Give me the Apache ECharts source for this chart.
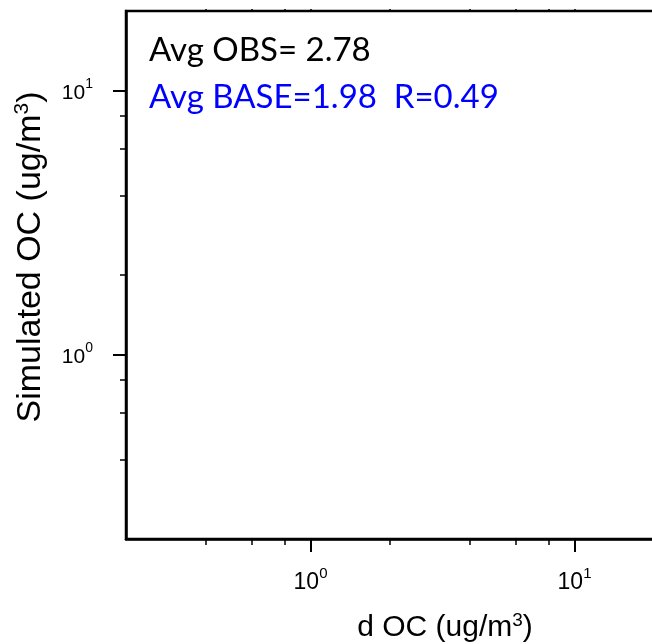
<!DOCTYPE html>
<html>
<head>
<meta charset="utf-8">
<script src="https://cdn.jsdelivr.net/npm/echarts@6/dist/echarts.min.js"></script>
<style>
html, body { margin: 0; padding: 0; background: #fff; }
#chart { width: 652px; height: 644px; }
</style>
</head>
<body>
<div id="chart"></div>
<script>
// Log-log axis range, shared by both axes
const axisMin = 0.2;
const axisMax = 20;
const majorTicks = [1, 10];
const minorTicks = [0.4, 0.6, 0.8, 2, 4, 6, 8];

// Summary statistics printed in the panel
const avgObs = 2.78;
const avgBase = 1.98;
const corrR = 0.49;

// Paired observed / simulated values (this panel has none)
const obsValues = [];
const baseValues = [];

const AXIS_FONT = '"Liberation Sans", Arial, Helvetica, sans-serif';
const NOTE_FONT = 'Lato, "Open Sans", sans-serif';
const LINE_W = 2.5;

const chart = echarts.init(document.getElementById('chart'), null, { renderer: 'canvas' });

const powerLabel = v => '{b|10}{s|' + Math.round(Math.log10(v)) + '}';

// Decade labels "10^n" with a raised exponent
function tickLabel(size, margin) {
  const sup = Math.round(size * 0.65);
  return {
    show: true, customValues: majorTicks, formatter: powerLabel,
    fontSize: size, fontFamily: AXIS_FONT, color: '#000', margin: margin,
    rich: {
      b: { fontSize: size, fontFamily: AXIS_FONT, color: '#000', lineHeight: size + 5, verticalAlign: 'bottom' },
      s: { fontSize: sup, fontFamily: AXIS_FONT, color: '#000', lineHeight: size + 5, verticalAlign: 'top' }
    }
  };
}

function nameStyle(size, padding) {
  return {
    fontSize: size,
    fontFamily: AXIS_FONT,
    padding: padding,
    rich: {
      n: { fontSize: size, fontFamily: AXIS_FONT, color: '#000', lineHeight: size + 4 },
      s: { fontSize: Math.round(size * 0.62), fontFamily: AXIS_FONT, color: '#000', lineHeight: size + 4, verticalAlign: 'top' }
    }
  };
}

// Main axis: line, major ticks and decade labels
function majorAxis(extra) {
  return Object.assign({
    type: 'log', logBase: 10, min: axisMin, max: axisMax,
    axisLine: { show: true, onZero: false, lineStyle: { color: '#000', width: LINE_W } },
    axisTick: { show: true, customValues: majorTicks, length: 13, lineStyle: { color: '#000', width: 2 } },
    splitLine: { show: false },
    minorTick: { show: false },
    minorSplitLine: { show: false }
  }, extra);
}

// Overlaid axis carrying only the short minor ticks
function minorAxis(extra) {
  return Object.assign({
    type: 'log', logBase: 10, min: axisMin, max: axisMax,
    axisLine: { show: false, onZero: false },
    axisTick: { show: true, customValues: minorTicks, length: 6, lineStyle: { color: '#000', width: 1.5 } },
    axisLabel: { show: false },
    splitLine: { show: false }
  }, extra);
}

const option = {
  backgroundColor: '#fff',
  animation: false,
  grid: {
    left: 126, top: 11, width: 528, height: 528,
    show: true, borderColor: '#000', borderWidth: LINE_W, backgroundColor: 'transparent',
    containLabel: false,
    outerBoundsMode: 'none'
  },
  xAxis: [
    majorAxis({
      position: 'bottom',
      axisLabel: tickLabel(23, 27),
      name: '{n|d OC (ug/m}{s|3}{n|)}',
      nameLocation: 'middle',
      nameGap: 72,
      nameTextStyle: nameStyle(30, [0, 0, 0, 110])
    }),
    minorAxis({ position: 'bottom' }),
    {
      type: 'log', logBase: 10, min: axisMin, max: axisMax, position: 'top',
      axisLine: { show: false, onZero: false },
      axisTick: { show: true, customValues: majorTicks.concat(minorTicks), length: 2, lineStyle: { color: '#000', width: 1.5 } },
      axisLabel: { show: false },
      splitLine: { show: false }
    }
  ],
  yAxis: [
    majorAxis({
      position: 'left',
      axisLabel: tickLabel(21, 33),
      name: '{n|Simulated OC (ug/m}{s|3}{n|)}',
      nameLocation: 'middle',
      nameRotate: 90,
      nameGap: 76,
      nameTextStyle: nameStyle(34, [0, 0, 0, 36])
    }),
    minorAxis({ position: 'left' })
  ],
  series: [{
    type: 'scatter',
    xAxisIndex: 0,
    yAxisIndex: 0,
    symbolSize: 6,
    itemStyle: { color: '#000' },
    data: obsValues.map((v, i) => [v, baseValues[i]])
  }],
  graphic: [
    {
      type: 'text', left: 149, top: 34, silent: true,
      style: { text: 'Avg OBS= ' + avgObs.toFixed(2), font: '33px ' + NOTE_FONT, fill: '#000' }
    },
    {
      type: 'text', left: 149, top: 81, silent: true,
      style: { text: 'Avg BASE=' + avgBase.toFixed(2) + '  R=' + corrR.toFixed(2), font: '33px ' + NOTE_FONT, fill: '#0000ff' }
    }
  ]
};

chart.setOption(option);
</script>
</body>
</html>
